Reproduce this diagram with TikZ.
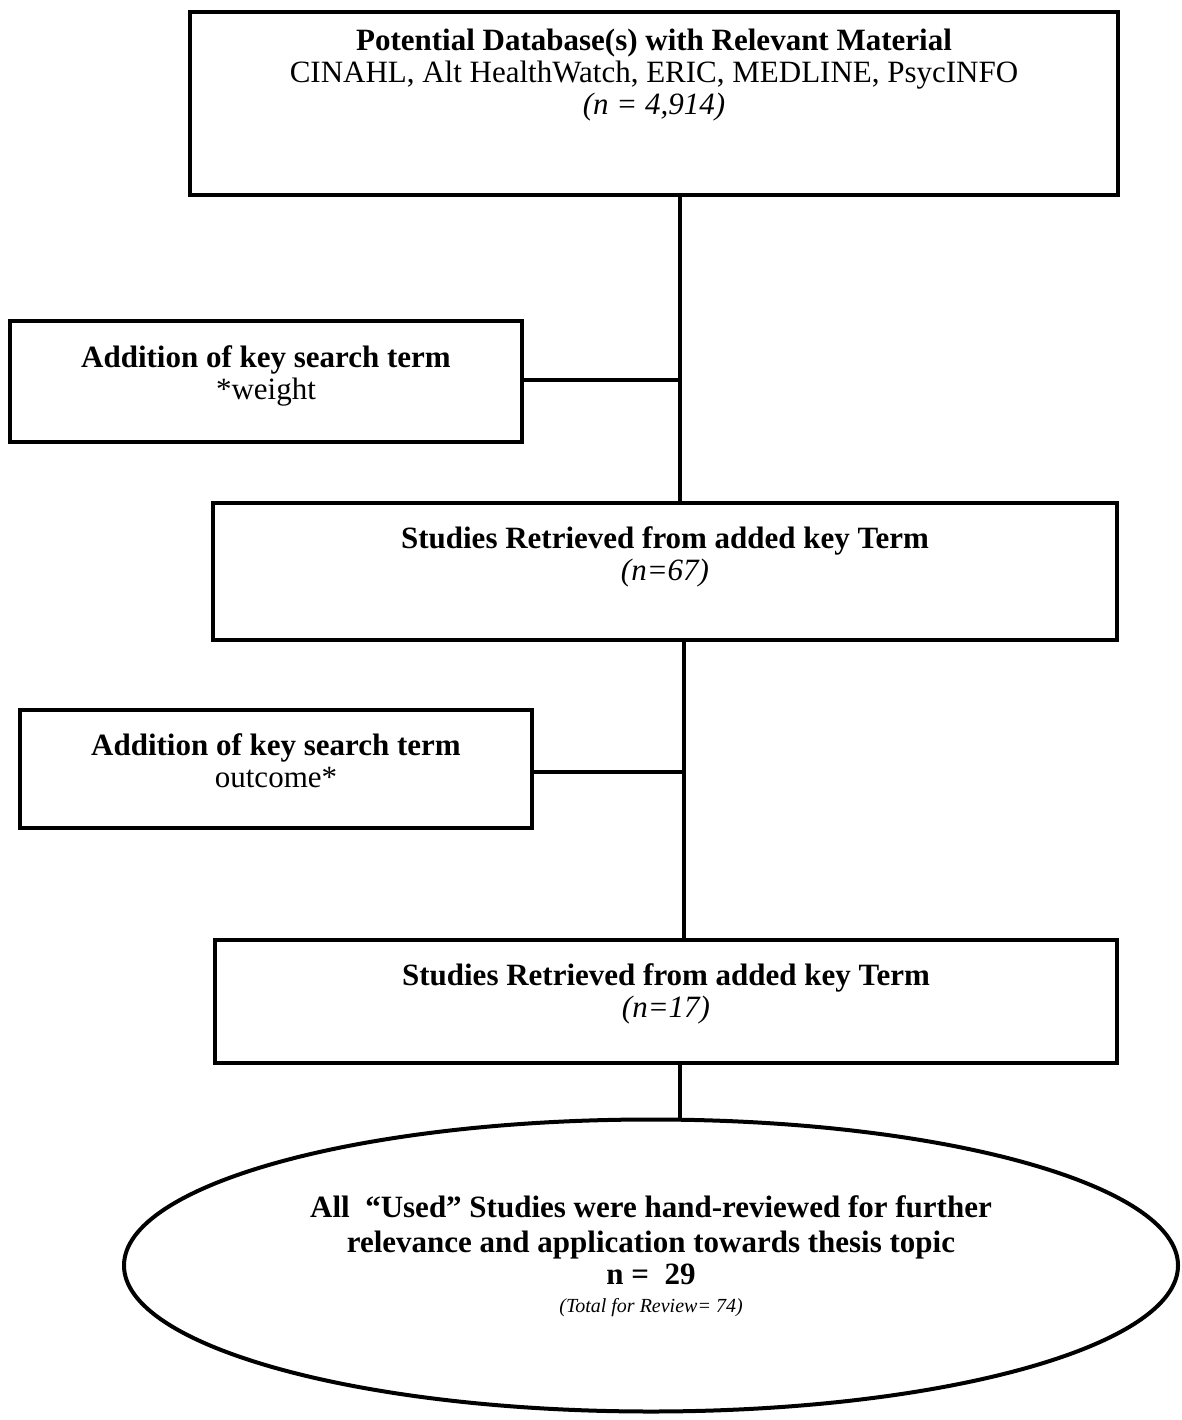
\documentclass[tikz,border=0pt]{standalone}
\usepackage{fontspec}
\setmainfont{Liberation Serif}
\usetikzlibrary{positioning, shapes.geometric}

\begin{document}
\begin{tikzpicture}[x=1pt, y=1pt, line width=4.5pt,
    every node/.style={inner sep=0pt},
    stagebox/.style={draw, rectangle},
    lbl/.style={align=center, font=\fontsize{31}{32}\selectfont}]
				\useasboundingbox (0,0) rectangle (1181,-1420);

				\node[stagebox, minimum width=928pt, minimum height=183pt] (db) at (654,-103.5) {};
				\node[lbl, below=17pt of db.north] (dbtxt) {\textbf{Potential Database(s) with Relevant Material}\\
					CINAHL, Alt HealthWatch, ERIC, MEDLINE, PsycINFO\\ \textit{(n = 4,914)}};

				\node[stagebox, minimum width=512pt, minimum height=121pt] (addw) at (266,-381.5) {};
				\node[lbl, below=25pt of addw.north] (addwtxt) {\textbf{Addition of key search term}\\ *weight};

				\node[stagebox, minimum width=904pt, minimum height=137pt] (ret67) at (665,-571.5) {};
				\node[lbl, below=24pt of ret67.north] (ret67txt) {\textbf{Studies Retrieved from added key Term}\\ \textit{(n=67)}};

				\node[stagebox, minimum width=512pt, minimum height=118pt] (addo) at (276,-769) {};
				\node[lbl, below=24pt of addo.north] (addotxt) {\textbf{Addition of key search term}\\ outcome*};

				\node[stagebox, minimum width=902pt, minimum height=123pt] (ret17) at (666,-1001.5) {};
				\node[lbl, below=24pt of ret17.north] (ret17txt) {\textbf{Studies Retrieved from added key Term}\\ \textit{(n=17)}};

				\node[draw, ellipse, line width=4pt, minimum width=1054pt, minimum height=292pt] (used) at (651,-1265.5) {};
				\node[lbl, below=76pt of used.north] (usedtxt) {\textbf{All \ “Used” Studies were hand-reviewed for further}\\[3pt]
					\textbf{relevance and application towards thesis topic}\\ \textbf{n = \ 29}\\[-4pt]
					{\fontsize{20}{22}\selectfont\itshape (Total for Review= 74)}};

				\coordinate (j1) at (680,-380);
				\coordinate (j2) at (684,-772);

				\draw (db.south -| j1) -- (ret67.north -| j1);
				\draw (addw.east |- j1) -- (j1);
				\draw (ret67.south -| j2) -- (ret17.north -| j2);
				\draw (addo.east |- j2) -- (j2);
				\draw (ret17.south -| j1) -- (used.north -| j1);
\end{tikzpicture}
\end{document}
